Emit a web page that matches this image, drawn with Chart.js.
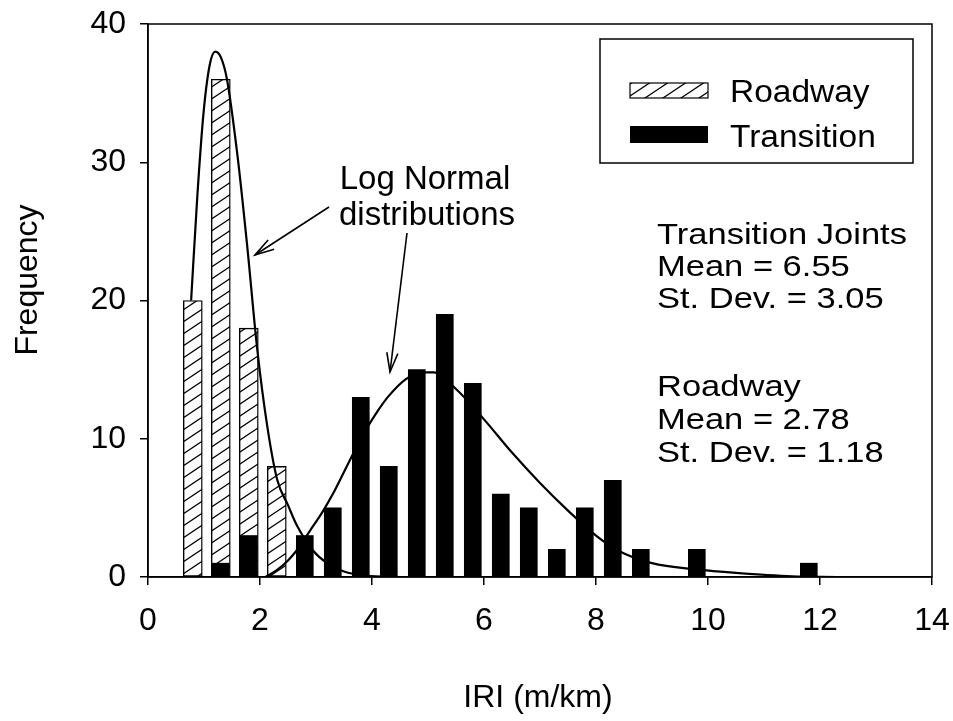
<!DOCTYPE html>
<html><head><meta charset="utf-8">
<script src="https://cdn.jsdelivr.net/npm/chart.js@4/dist/chart.umd.min.js"></script>
<style>html,body{margin:0;padding:0;background:#fff;}#wrap{width:953px;height:721px;}</style>
</head><body><div id="wrap"><canvas id="c" width="953" height="721"></canvas></div>
<script>
// ---- data ----
const binCenters = [0.8,1.3,1.8,2.3,2.8,3.3,3.8,4.3,4.8,5.3,5.8,6.3,6.8,7.3,7.8,8.3,8.8,9.3,9.8,10.3,10.8,11.3,11.8];
const roadwayFreq = [20,36,18,8,0,0,0,0,0,0,0,0,0,0,0,0,0,0,0,0,0,0,0];
const transitionFreq = [0,1,3,0,3,5,13,8,15,19,14,6,5,2,5,7,2,0,2,0,0,0,1];

const roadwayCurveX = [0.77,0.88,0.99,1.1,1.2,1.3,1.41,1.6,1.77,1.95,2.13,2.31,2.5,2.65,2.95,3.2,3.5,3.9,4.5];
const roadwayCurveY = [20,27.5,33.5,37,38,37.6,36,30.4,24,16.5,10.9,7,5.2,3.8,1.9,1.0,0.4,0.1,0];

const transitionCurveX = [2.1,2.3,2.5,2.65,2.95,3.1,3.3,3.5,3.7,3.9,4.1,4.3,4.6,4.9,5.1,5.5,6.0,6.5,7.0,7.5,8.0,8.4,9.0,9.8,10.5,11.5,12.3];
const transitionCurveY = [0,0.5,1.2,1.9,3.7,4.6,6.0,7.6,9.2,10.7,12.0,13.1,14.3,14.8,14.8,13.6,11.4,9.0,6.8,4.8,3.0,1.9,1.0,0.55,0.3,0.05,0];

const xTicks = [0,2,4,6,8,10,12,14];
const yTicks = [0,10,20,30,40];

const legendLabels = ['Roadway','Transition'];
const annotationLines = ['Log Normal','distributions'];
const statsLines = ['Transition Joints','Mean = 6.55','St. Dev. = 3.05','','Roadway','Mean = 2.78','St. Dev. = 1.18'];
const xTitle = 'IRI (m/km)';
const yTitle = 'Frequency';

// ---- styling ----
const FONT = '"Liberation Sans", Arial, Helvetica, sans-serif';

function makeHatch(){
  const t = document.createElement('canvas');
  t.width = 18; t.height = 12;
  const g = t.getContext('2d');
  g.fillStyle = '#fff'; g.fillRect(0,0,18,12);
  g.strokeStyle = '#000'; g.lineWidth = 1.3;
  for (const off of [-12,0,12]) {
    g.beginPath(); g.moveTo(-18, 24+off); g.lineTo(36, -12+off); g.stroke();
  }
  return t;
}
const hatchCanvas = makeHatch();
const ctx0 = document.getElementById('c').getContext('2d');
const hatch = ctx0.createPattern(hatchCanvas, 'repeat');

const toPts = (xs, ys) => xs.map((x,i)=>({x, y: ys[i]}));
const toBars = (ys) => binCenters.map((x,i)=> ys[i] ? {x, y: ys[i]} : null).filter(Boolean);

function drawStretched(ctx, text, x, y, sx){
  ctx.save(); ctx.translate(x,y); ctx.scale(sx,1); ctx.fillText(text,0,0); ctx.restore();
}
function arrow(ctx, x1,y1,x2,y2){
  ctx.beginPath(); ctx.moveTo(x1,y1); ctx.lineTo(x2,y2); ctx.stroke();
  const a = Math.atan2(y2-y1, x2-x1), L = 20, w = 0.28;
  ctx.beginPath();
  ctx.moveTo(x2 - L*Math.cos(a-w), y2 - L*Math.sin(a-w));
  ctx.lineTo(x2,y2);
  ctx.lineTo(x2 - L*Math.cos(a+w), y2 - L*Math.sin(a+w));
  ctx.stroke();
}

const decor = {
  id: 'decor',
  afterDraw(chart){
    const ctx = chart.ctx, ca = chart.chartArea;
    ctx.save();
    ctx.strokeStyle = '#000'; ctx.fillStyle = '#000';
    // frame
    ctx.lineWidth = 1.5;
    ctx.strokeRect(ca.left, ca.top, ca.right-ca.left, ca.bottom-ca.top);
    // legend box
    ctx.fillStyle = '#fff';
    ctx.fillRect(600,39,313,124);
    ctx.strokeRect(600,39,313,124);
    ctx.fillStyle = hatch; ctx.fillRect(630,83,78,15);
    ctx.lineWidth = 1.2; ctx.strokeRect(630,83,78,15);
    ctx.fillStyle = '#000'; ctx.fillRect(630,126,78,17);
    ctx.font = '31px ' + FONT; ctx.textBaseline = 'alphabetic'; ctx.textAlign = 'left';
    drawStretched(ctx, legendLabels[0], 730, 102, 1.08);
    drawStretched(ctx, legendLabels[1], 730, 147, 1.08);
    // annotation
    ctx.font = '33px ' + FONT; ctx.textAlign = 'center';
    ctx.fillText(annotationLines[0], 425, 189);
    ctx.fillText(annotationLines[1], 427, 225);
    ctx.lineWidth = 1.6;
    arrow(ctx, 329, 207, 255, 255);
    arrow(ctx, 407, 233, 390, 372);
    // stats
    ctx.font = '30px ' + FONT; ctx.textAlign = 'left';
    const bases = [244,276,308,0,396,429,462];
    statsLines.forEach((t,i)=>{ if (t) drawStretched(ctx, t, 657, bases[i], 1.15); });
    // axis titles
    ctx.font = '32px ' + FONT; ctx.textAlign = 'center';
    ctx.fillText(xTitle, 538, 707);
    ctx.save(); ctx.translate(37, 280); ctx.rotate(-Math.PI/2);
    ctx.fillText(yTitle, 0, 0); ctx.restore();
    ctx.restore();
  }
};

new Chart(document.getElementById('c'), {
  type: 'bar',
  data: {
    datasets: [
      { type:'line', label:'Roadway log normal', data: toPts(roadwayCurveX, roadwayCurveY),
        borderColor:'#000', borderWidth:2.2, pointRadius:0, fill:false,
        cubicInterpolationMode:'monotone', order:0 },
      { type:'line', label:'Transition log normal', data: toPts(transitionCurveX, transitionCurveY),
        borderColor:'#000', borderWidth:2.2, pointRadius:0, fill:false,
        cubicInterpolationMode:'monotone', order:0 },
      { type:'bar', label: legendLabels[1], data: toBars(transitionFreq),
        backgroundColor:'#000', borderWidth:0, barThickness:17, grouped:false, order:1 },
      { type:'bar', label: legendLabels[0], data: toBars(roadwayFreq),
        backgroundColor: hatch, borderColor:'#000', borderWidth:1.4, borderSkipped:false,
        barThickness:19, grouped:false, order:2 }
    ]
  },
  options: {
    responsive:false, animation:false, devicePixelRatio:1,
    layout:{ padding:{ left:0, top:24, right:21, bottom:0 } },
    plugins:{ legend:{display:false}, tooltip:{enabled:false} },
    scales:{
      x:{ type:'linear', min:0, max:14, offset:false,
        afterBuildTicks: s => { s.ticks = xTicks.map(v=>({value:v})); },
        ticks:{ color:'#000', font:{family:FONT, size:32}, padding:17, maxRotation:0, autoSkip:false },
        grid:{ drawOnChartArea:false, drawTicks:true, tickLength:8, color:'#000', lineWidth:1.5, offset:false },
        border:{ display:true, color:'#000', width:1.5 },
        afterFit: s => { s.height = 144; s.paddingLeft = 0; s.paddingRight = 0; } },
      y:{ min:0, max:40,
        afterBuildTicks: s => { s.ticks = yTicks.map(v=>({value:v})); },
        ticks:{ color:'#000', font:{family:FONT, size:32}, padding:14 },
        grid:{ drawOnChartArea:false, drawTicks:true, tickLength:8, color:'#000', lineWidth:1.5 },
        border:{ display:true, color:'#000', width:1.5 },
        afterFit: s => { s.width = 148; s.paddingTop = 0; s.paddingBottom = 0; } }
    }
  },
  plugins:[decor]
});
</script></body></html>
